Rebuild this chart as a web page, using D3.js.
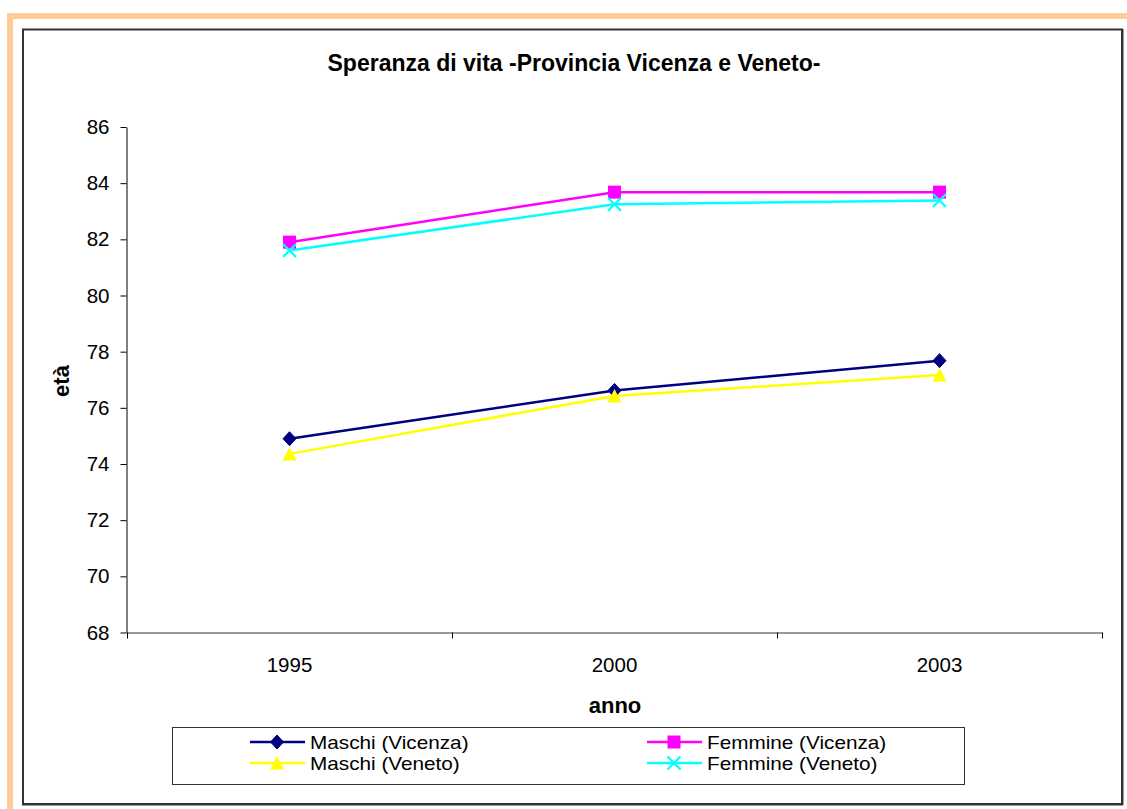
<!DOCTYPE html>
<html>
<head>
<meta charset="utf-8">
<script src="https://cdn.jsdelivr.net/npm/d3@7"></script>
<style>
  html, body { margin: 0; padding: 0; background: #fff; }
  svg { display: block; }
  text { font-family: "Liberation Sans", Arial, sans-serif; }
</style>
</head>
<body>
<svg id="chart" width="1127" height="809"></svg>
<script>
const categories = ["1995", "2000", "2003"];
const maschiVicenza = [74.9, 76.62, 77.68];
const femmineVicenza = [81.9, 83.68, 83.68];
const maschiVeneto = [74.36, 76.42, 77.17];
const femmineVeneto = [81.6, 83.25, 83.38];
const yTicks = [68, 70, 72, 74, 76, 78, 80, 82, 84, 86];
const seriesNames = ["Maschi (Vicenza)", "Femmine (Vicenza)", "Maschi (Veneto)", "Femmine (Veneto)"];
const titleText = "Speranza di vita -Provincia Vicenza e Veneto-";
const xTitle = "anno";
const yTitle = "età";

const series = [
  { name: seriesNames[0], values: maschiVicenza, color: "#000080", marker: "diamond" },
  { name: seriesNames[1], values: femmineVicenza, color: "#FF00FF", marker: "square" },
  { name: seriesNames[2], values: maschiVeneto, color: "#FFFF00", marker: "triangle" },
  { name: seriesNames[3], values: femmineVeneto, color: "#00FFFF", marker: "x" }
];

const svg = d3.select("#chart");

// orange page border
svg.append("rect").attr("x", 7).attr("y", 13).attr("width", 1127 - 7).attr("height", 6).attr("fill", "#FFCC99");
svg.append("rect").attr("x", 7).attr("y", 13).attr("width", 6).attr("height", 809 - 13).attr("fill", "#FFCC99");

// chart frame
svg.append("rect").attr("x", 23).attr("y", 29.5).attr("width", 1099).attr("height", 774.5)
  .attr("fill", "#fff").attr("stroke", "#333").attr("stroke-width", 2);
svg.append("line").attr("x1", 1122.5).attr("x2", 1122.5).attr("y1", 29).attr("y2", 805)
  .attr("stroke", "#333").attr("stroke-width", 2);
svg.append("line").attr("x1", 22).attr("x2", 1123).attr("y1", 804.5).attr("y2", 804.5)
  .attr("stroke", "#333").attr("stroke-width", 2);

const plot = { left: 127, right: 1102, top: 127, bottom: 632.5 };

const x = d3.scaleBand().domain(categories).range([plot.left, plot.right]);
const y = d3.scaleLinear().domain([68, 86]).range([plot.bottom, plot.top]);
const cx = c => x(c) + x.bandwidth() / 2;

// title
svg.append("text").attr("x", 574).attr("y", 71).attr("text-anchor", "middle")
  .attr("font-weight", "bold").attr("font-size", 23).attr("fill", "#000").text(titleText);

// y axis
const yAxis = d3.axisLeft(y).tickValues(yTicks).tickSize(6).tickPadding(11).tickSizeOuter(0);
const gy = svg.append("g").attr("transform", `translate(${plot.left - 0.5},0)`).call(yAxis);
gy.select(".domain").attr("stroke", "#000");
gy.selectAll(".tick line").attr("stroke", "#000");
gy.selectAll(".tick text").attr("font-size", 20.5).attr("fill", "#000")
  .attr("font-family", "Liberation Sans, Arial, sans-serif");

// x axis
const xAxis = d3.axisBottom(x).tickSize(0).tickPadding(25).tickSizeOuter(0);
const gx = svg.append("g").attr("transform", `translate(0,${plot.bottom})`).call(xAxis);
gx.select(".domain").attr("stroke", "#333");
gx.selectAll(".tick text").attr("font-size", 20.5).attr("fill", "#000")
  .attr("font-family", "Liberation Sans, Arial, sans-serif");
// category boundary tick marks
const bounds = categories.map(c => x(c)).concat([plot.right]);
svg.append("g").selectAll("line").data(bounds).join("line")
  .attr("x1", d => Math.round(d) + 0.5).attr("x2", d => Math.round(d) + 0.5)
  .attr("y1", plot.bottom).attr("y2", plot.bottom + 6)
  .attr("stroke", "#000");

// axis titles
svg.append("text").attr("x", 615).attr("y", 713).attr("text-anchor", "middle")
  .attr("font-weight", "bold").attr("font-size", 22).text(xTitle);
svg.append("text").attr("transform", "translate(69,381) rotate(-90)").attr("text-anchor", "middle")
  .attr("font-weight", "bold").attr("font-size", 22).text(yTitle);

// marker drawing
function drawMarker(g, type, color) {
  if (type === "diamond") {
    g.append("path").attr("d", "M0,-7L6.5,0L0,7L-6.5,0Z").attr("fill", color).attr("stroke", color);
  } else if (type === "square") {
    g.append("rect").attr("x", -6.5).attr("y", -6.5).attr("width", 13).attr("height", 13).attr("fill", color);
  } else if (type === "triangle") {
    g.append("path").attr("d", "M0,-7L7,6.5L-7,6.5Z").attr("fill", color);
  } else if (type === "x") {
    g.append("path").attr("d", "M-6.5,-6.5L6.5,6.5M6.5,-6.5L-6.5,6.5").attr("stroke", color).attr("stroke-width", 2.2).attr("fill", "none");
  }
}

const line = d3.line().x((d, i) => cx(categories[i])).y(d => y(d));
series.forEach(s => {
  svg.append("path").datum(s.values).attr("d", line).attr("fill", "none")
    .attr("stroke", s.color).attr("stroke-width", 2.5);
});
series.forEach(s => {
  s.values.forEach((v, i) => {
    const g = svg.append("g").attr("transform", `translate(${cx(categories[i])},${y(v)})`);
    drawMarker(g, s.marker, s.color);
  });
});

// legend
svg.append("rect").attr("x", 172.5).attr("y", 727.5).attr("width", 792).attr("height", 57)
  .attr("fill", "#fff").attr("stroke", "#333").attr("stroke-width", 1);
const legendPos = [
  { lx: 250, ly: 742 }, { lx: 647, ly: 742 },
  { lx: 250, ly: 763 }, { lx: 647, ly: 763 }
];
series.forEach((s, i) => {
  const p = legendPos[i];
  const g = svg.append("g");
  g.append("line").attr("x1", p.lx).attr("x2", p.lx + 55).attr("y1", p.ly).attr("y2", p.ly)
    .attr("stroke", s.color).attr("stroke-width", 2.5);
  const mg = g.append("g").attr("transform", `translate(${p.lx + 27},${p.ly})`);
  drawMarker(mg, s.marker, s.color);
  const t = g.append("text").attr("x", p.lx + 60).attr("y", p.ly + 6.5).attr("font-size", 18.5)
    .attr("fill", "#000").text(s.name);
  const w = t.node().getComputedTextLength();
  t.attr("textLength", w * 1.12).attr("lengthAdjust", "spacingAndGlyphs");
});
</script>
</body>
</html>
